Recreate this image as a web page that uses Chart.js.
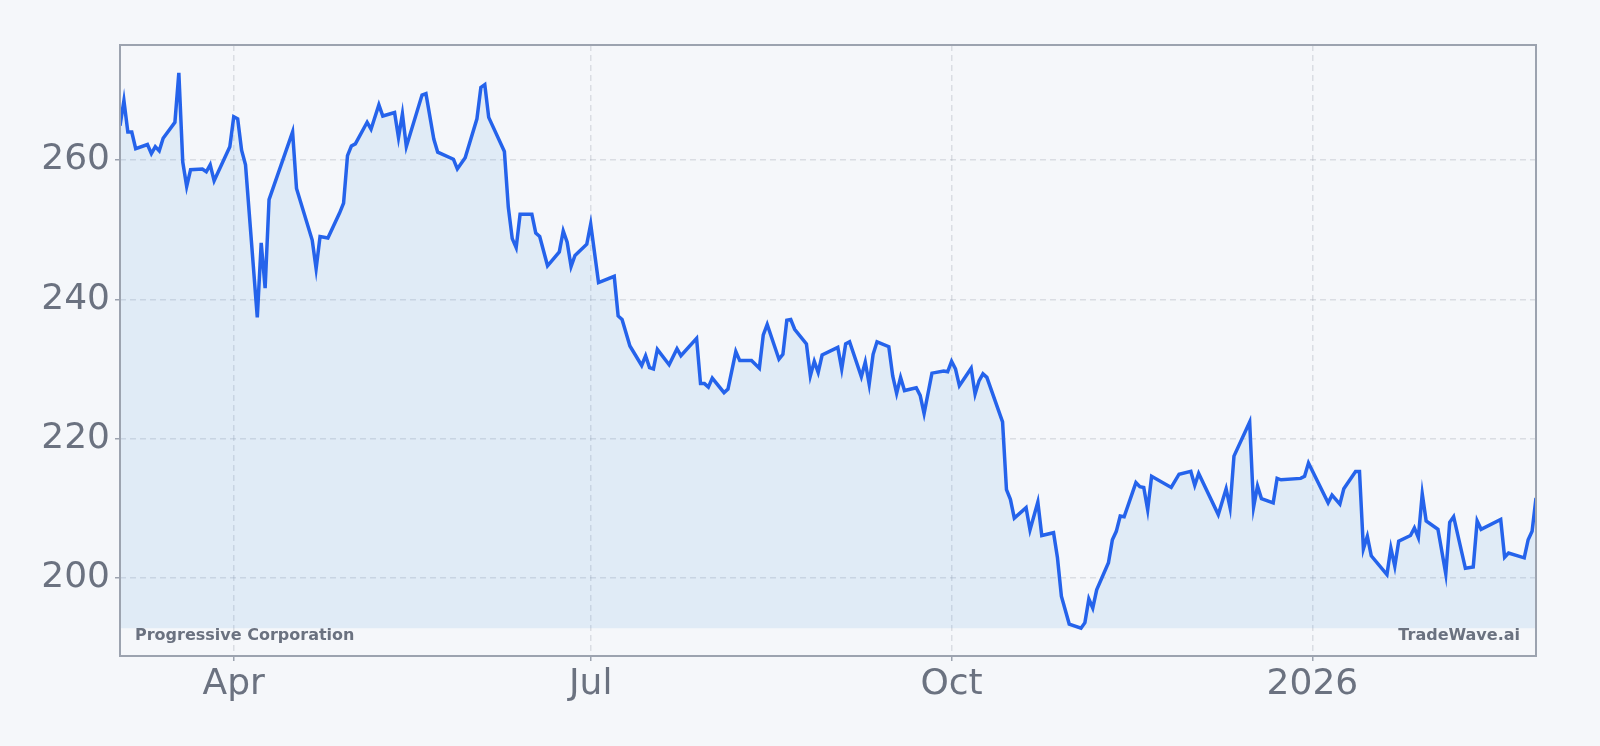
<!DOCTYPE html>
<html>
<head>
<meta charset="utf-8">
<script src="https://cdn.jsdelivr.net/npm/chart.js@4.4.1/dist/chart.umd.min.js"></script>
<style>
  html, body { margin: 0; padding: 0; background: #f5f7fa; }
  #wrap { width: 1600px; height: 746px; }
</style>
</head>
<body>
<div id="wrap"><canvas id="priceChart"></canvas></div>
<script>
// daily closes (turning points of the line)
var dates = [
  '2025-03-03','2025-03-04','2025-03-05','2025-03-06','2025-03-07','2025-03-10','2025-03-11','2025-03-12','2025-03-13','2025-03-14',
  '2025-03-17','2025-03-18','2025-03-19','2025-03-20','2025-03-21','2025-03-24','2025-03-25','2025-03-26','2025-03-27','2025-03-31',
  '2025-04-01','2025-04-02','2025-04-03','2025-04-04','2025-04-07','2025-04-08','2025-04-09','2025-04-10','2025-04-16','2025-04-17',
  '2025-04-21','2025-04-22','2025-04-23','2025-04-24','2025-04-25','2025-04-28','2025-04-29','2025-04-30','2025-05-01','2025-05-02',
  '2025-05-05','2025-05-06','2025-05-08','2025-05-09','2025-05-12','2025-05-13','2025-05-14','2025-05-15','2025-05-19','2025-05-20',
  '2025-05-22','2025-05-23','2025-05-27','2025-05-28','2025-05-30','2025-06-02','2025-06-03','2025-06-04','2025-06-05','2025-06-09',
  '2025-06-10','2025-06-11','2025-06-12','2025-06-13','2025-06-16','2025-06-17','2025-06-18','2025-06-20','2025-06-23','2025-06-24',
  '2025-06-25','2025-06-26','2025-06-27','2025-06-30','2025-07-01','2025-07-03','2025-07-07','2025-07-08','2025-07-09','2025-07-11',
  '2025-07-14','2025-07-15','2025-07-16','2025-07-17','2025-07-18','2025-07-21','2025-07-23','2025-07-24','2025-07-28','2025-07-29',
  '2025-07-30','2025-07-31','2025-08-01','2025-08-04','2025-08-05','2025-08-07','2025-08-08','2025-08-11','2025-08-13','2025-08-14',
  '2025-08-15','2025-08-18','2025-08-19','2025-08-20','2025-08-21','2025-08-22','2025-08-25','2025-08-26','2025-08-27','2025-08-28',
  '2025-08-29','2025-09-02','2025-09-03','2025-09-04','2025-09-05','2025-09-08','2025-09-09','2025-09-10','2025-09-11','2025-09-12',
  '2025-09-15','2025-09-16','2025-09-17','2025-09-18','2025-09-19','2025-09-22','2025-09-23','2025-09-24','2025-09-26','2025-09-29',
  '2025-09-30','2025-10-01','2025-10-02','2025-10-03','2025-10-06','2025-10-07','2025-10-08','2025-10-09','2025-10-10','2025-10-14',
  '2025-10-15','2025-10-16','2025-10-17','2025-10-20','2025-10-21','2025-10-23','2025-10-24','2025-10-27','2025-10-28','2025-10-29',
  '2025-10-31','2025-11-03','2025-11-04','2025-11-05','2025-11-06','2025-11-07','2025-11-10','2025-11-11','2025-11-12','2025-11-13',
  '2025-11-14','2025-11-17','2025-11-18','2025-11-19','2025-11-20','2025-11-21','2025-11-26','2025-11-28','2025-12-01','2025-12-02',
  '2025-12-03','2025-12-08','2025-12-10','2025-12-11','2025-12-12','2025-12-16','2025-12-17','2025-12-18','2025-12-19','2025-12-22',
  '2025-12-23','2025-12-24','2025-12-29','2025-12-30','2025-12-31','2026-01-05','2026-01-06','2026-01-08','2026-01-09','2026-01-12',
  '2026-01-13','2026-01-14','2026-01-15','2026-01-16','2026-01-20','2026-01-21','2026-01-22','2026-01-23','2026-01-26','2026-01-27',
  '2026-01-28','2026-01-29','2026-01-30','2026-02-02','2026-02-03','2026-02-04','2026-02-05','2026-02-06','2026-02-09','2026-02-11',
  '2026-02-12','2026-02-13','2026-02-18','2026-02-19','2026-02-20','2026-02-24','2026-02-25','2026-02-26','2026-02-27'
];
var prices = [
  264.9,268.5,264.0,264.0,261.6,262.2,260.9,261.9,261.3,263.1,
  265.4,272.5,259.7,256.2,258.6,258.7,258.3,259.3,257.0,261.9,
  266.2,265.9,261.4,259.3,237.4,248.1,241.6,254.3,264.0,255.9,
  248.5,244.4,249.0,248.9,248.8,252.4,253.8,260.6,262.0,262.3,
  265.4,264.4,267.9,266.3,266.8,263.2,266.6,261.9,269.3,269.5,
  263.0,261.1,260.1,258.7,260.3,265.9,270.4,270.8,266.1,261.2,
  253.2,248.7,247.4,252.2,252.2,249.5,249.0,244.8,246.8,249.8,
  248.2,244.7,246.3,247.9,250.8,242.4,243.3,237.6,237.1,233.3,
  230.5,231.9,230.2,230.0,232.8,230.6,232.9,231.9,234.4,227.9,
  227.9,227.4,228.7,226.6,227.1,232.5,231.2,231.2,230.1,234.9,
  236.4,231.4,232.1,237.0,237.1,235.7,233.6,229.0,231.1,229.5,
  232.0,233.1,230.0,233.6,233.9,228.9,231.0,227.8,232.1,233.9,
  233.2,229.0,226.5,228.8,226.9,227.3,226.2,223.6,229.4,229.7,
  229.6,231.1,230.0,227.6,230.1,226.4,228.3,229.3,228.8,222.4,
  212.7,211.3,208.6,210.1,206.9,210.9,206.1,206.5,202.9,197.4,
  193.4,192.8,193.6,197.0,195.7,198.3,202.2,205.5,206.7,208.9,
  208.8,213.7,213.1,213.0,209.8,214.6,213.0,214.9,215.3,213.3,
  215.0,209.1,212.8,210.1,217.5,222.4,210.2,213.2,211.4,210.8,
  214.3,214.1,214.3,214.6,216.5,210.8,211.9,210.6,212.8,215.3,
  215.3,204.2,206.0,203.2,200.5,204.3,201.7,205.3,206.1,207.2,
  205.8,212.1,208.2,207.0,203.8,200.6,208.0,208.8,201.4,201.6,
  208.2,207.0,208.4,203.0,203.6,202.9,205.5,206.7,211.5
];
var xTickDates = ['2025-04-01', '2025-07-01', '2025-10-01', '2026-01-01'];
var xTickLabels = ['Apr', 'Jul', 'Oct', '2026'];
var yTicks = [200, 220, 240, 260];

var startDay = Date.UTC(2025, 2, 3);
function dayOffset(s) {
  var p = s.split('-');
  return (Date.UTC(+p[0], +p[1] - 1, +p[2]) - startDay) / 86400000;
}

var points = dates.map(function (d, i) { return { x: dayOffset(d), y: prices[i] }; });
var minP = Math.min.apply(null, prices);
var maxP = Math.max.apply(null, prices);
var pad = (maxP - minP) * 0.05;
var xTickPos = xTickDates.map(dayOffset);

var textGrey = '#6b7280';
var frameGrey = '#9ca3af';
var gridGrey = 'rgba(156,163,175,0.3)';

var framePlugin = {
  id: 'frame',
  beforeDraw: function (chart) {
    var c = chart.ctx;
    c.save();
    c.fillStyle = '#f5f7fa';
    c.fillRect(0, 0, chart.width, chart.height);
    c.restore();
  },
  afterDraw: function (chart) {
    var a = chart.chartArea, c = chart.ctx;
    c.save();
    c.strokeStyle = frameGrey;
    c.lineWidth = 2;
    c.strokeRect(a.left, a.top, a.right - a.left, a.bottom - a.top);
    c.fillStyle = textGrey;
    c.font = 'bold 16px "DejaVu Sans"';
    c.textBaseline = 'alphabetic';
    c.textAlign = 'left';
    c.fillText('Progressive Corporation', a.left + 15, a.bottom - 16);
    c.textAlign = 'right';
    c.fillText('TradeWave.ai', a.right - 16, a.bottom - 16);
    c.restore();
  }
};

var ctx = document.getElementById('priceChart').getContext('2d');
var priceChart = new Chart(ctx, {
  type: 'line',
  data: {
    datasets: [{
      data: points,
      borderColor: '#2563eb',
      borderWidth: 3.5,
      backgroundColor: 'rgba(74,144,226,0.12)',
      fill: { value: minP },
      pointRadius: 0,
      tension: 0
    }]
  },
  options: {
    responsive: true,
    maintainAspectRatio: false,
    animation: false,
    layout: { padding: { top: 45, right: 64, left: 0, bottom: 0 } },
    plugins: {
      legend: { display: false },
      tooltip: { enabled: false }
    },
    scales: {
      x: {
        type: 'linear',
        min: 0,
        max: points[points.length - 1].x,
        afterBuildTicks: function (s) {
          s.ticks = xTickPos.map(function (v) { return { value: v }; });
        },
        afterFit: function (s) { s.height = 90; },
        ticks: {
          color: textGrey,
          font: { family: 'DejaVu Sans', size: 36 },
          padding: 2,
          maxRotation: 0,
          autoSkip: false,
          callback: function (v) {
            var i = xTickPos.indexOf(v);
            return i < 0 ? '' : xTickLabels[i];
          }
        },
        grid: { color: gridGrey, lineWidth: 1.5, tickLength: 5, tickColor: frameGrey, tickWidth: 1.5 },
        border: { display: false, dash: [6, 4] }
      },
      y: {
        min: minP - pad,
        max: maxP + pad,
        afterBuildTicks: function (s) {
          s.ticks = yTicks.map(function (v) { return { value: v }; });
        },
        afterFit: function (s) { s.width = 120; },
        ticks: {
          color: textGrey,
          font: { family: 'DejaVu Sans', size: 36 },
          padding: 5
        },
        grid: { color: gridGrey, lineWidth: 1.5, tickLength: 5, tickColor: frameGrey, tickWidth: 1.5 },
        border: { display: false, dash: [6, 4] }
      }
    }
  },
  plugins: [framePlugin]
});
</script>
</body>
</html>
